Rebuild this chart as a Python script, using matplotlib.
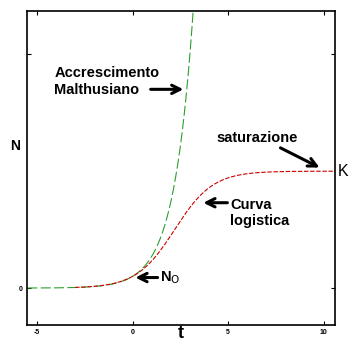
import numpy as np
import matplotlib
matplotlib.use("Agg")
import matplotlib.pyplot as plt

plt.rcParams['font.family'] = ['Liberation Sans', 'DejaVu Sans']

# parametri del modello
K = 1.0
N0 = 0.1
r = 1.0
x_ticks = [-5, 0, 5, 10]
x_ticklabels = ["-5", "0", "5", "10"]
y_ticks = [0, 2]
y_ticklabels = ["0", ""]

t_malt = np.linspace(-5.5, 3.3, 400)
t_log = np.linspace(-3.0, 10.6, 400)
N_malt = N0 * np.exp(r * t_malt)
N_log = K / (1 + (K / N0 - 1) * np.exp(-r * t_log))

fig = plt.figure(figsize=(3.5, 3.42), dpi=100)
ax = fig.add_axes([27 / 350, 17 / 342, 308 / 350, 314 / 342])

ax.plot(t_malt, N_malt, color="#2ca02c", lw=0.8, dashes=(9, 3))
ax.plot(t_log, N_log, color="#cc0000", lw=0.8, dashes=(4, 1.5))

ax.set_xlim(-5.52, 10.58)
ax.set_ylim(-0.316, 2.37)
ax.set_xticks(x_ticks)
ax.set_xticklabels(x_ticklabels, fontsize=5, fontweight="bold")
ax.set_yticks(y_ticks)
ax.set_yticklabels(y_ticklabels, fontsize=5, fontweight="bold")
ax.tick_params(direction="in", length=3, width=0.8, top=True, right=True, pad=3)
for s in ax.spines.values():
    s.set_linewidth(1.2)

ax.set_xlabel("t", fontsize=13, fontweight="bold", va="center")
ax.xaxis.set_label_coords(0.5, -0.028)
ax.set_ylabel("N", fontsize=10, fontweight="bold", rotation=0, va="center")
ax.yaxis.set_label_coords(-0.04, 0.57)

bold = dict(fontsize=10.5, fontweight="bold")
arr = dict(arrowstyle="->", lw=2.2, color="black", mutation_scale=15)

ax.text(-4.1, 1.77, "Accrescimento\nMalthusiano", va="center", ha="left",
        linespacing=1.25, **bold)
ax.annotate("", xy=(2.8, 1.70), xytext=(0.8, 1.70), arrowprops=arr)

ax.text(4.4, 1.28, "saturazione", va="center", ha="left", **bold)
ax.annotate("", xy=(9.9, 1.02), xytext=(7.6, 1.21), arrowprops=arr)

ax.text(5.1, 0.64, "Curva\nlogistica", va="center", ha="left",
        linespacing=1.2, **bold)
ax.annotate("", xy=(3.55, 0.73), xytext=(5.1, 0.73), arrowprops=arr)

ax.text(1.45, 0.085, r"N$_\mathrm{O}$", va="center", ha="left", **bold)
ax.annotate("", xy=(0.0, 0.09), xytext=(1.45, 0.09), arrowprops=arr)

ax.text(10.7, K, "K", va="center", ha="left", fontsize=11.5,
        clip_on=False)

fig.savefig("out.png", dpi=100)
